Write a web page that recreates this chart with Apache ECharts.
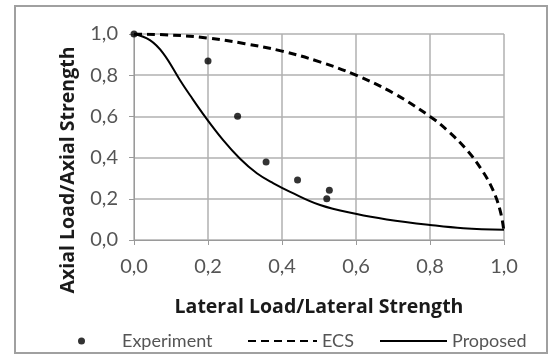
<!DOCTYPE html>
<html>
<head>
<meta charset="utf-8">
<script src="https://cdn.jsdelivr.net/npm/echarts@6/dist/echarts.min.js"></script>
<style>
  html, body { margin: 0; padding: 0; background: #fff; }
  #chart { width: 550px; height: 356px; }
</style>
</head>
<body>
<div id="chart"></div>
<script>
// Interaction curve: lateral load ratio (x) vs axial load ratio (y)
const axisTicks = [0, 0.2, 0.4, 0.6, 0.8, 1.0];

// Test results
const experimentX = [0.0, 0.20, 0.28, 0.357, 0.442, 0.528, 0.521];
const experimentY = [1.0, 0.869, 0.601, 0.379, 0.291, 0.241, 0.200];

// EC5 design interaction curve
const ecsX = [0.0, 0.1, 0.2, 0.3, 0.4, 0.5, 0.6, 0.7, 0.8, 0.85, 0.9, 0.94, 0.97, 0.99, 1.0];
const ecsY = [1.0, 0.995, 0.98, 0.953, 0.917, 0.866, 0.8, 0.714, 0.6, 0.527, 0.436, 0.34, 0.243, 0.14, 0.04];

// Proposed interaction curve
const proposedX = [0.0, 0.043, 0.079, 0.124, 0.151, 0.192, 0.241, 0.286, 0.332, 0.377, 0.422, 0.503, 0.602, 0.683, 0.80, 0.89, 1.0];
const proposedY = [1.0, 0.97, 0.906, 0.777, 0.704, 0.599, 0.485, 0.396, 0.324, 0.275, 0.234, 0.17, 0.126, 0.10, 0.073, 0.057, 0.05];

const zip = (xs, ys) => xs.map((x, i) => [x, ys[i]]);
const fmt = v => v.toFixed(1).replace('.', ',');

const FONT = 'Lato';
const TITLE_FONT = 'Open Sans';
const chart = echarts.init(document.getElementById('chart'), null, { renderer: 'canvas' });

const axisCommon = {
  type: 'value',
  min: axisTicks[0],
  max: axisTicks[axisTicks.length - 1],
  interval: 0.2,
  nameLocation: 'middle',
  axisLine: { show: true, lineStyle: { color: '#9a9a9a', width: 1 } },
  axisTick: { show: true, length: 5, lineStyle: { color: '#9a9a9a' } },
  splitLine: { show: true, lineStyle: { color: '#b0b0b0', width: 1.5 } },
  axisLabel: { color: '#555', fontFamily: FONT, fontSize: 20, formatter: fmt }
};

const legendText = { color: '#555', fontFamily: FONT, fontSize: 18 };

chart.setOption({
  animation: false,
  backgroundColor: '#fff',
  grid: { left: 134, right: 46, top: 34, bottom: 116 },
  graphic: [{
    type: 'rect',
    shape: { x: 15, y: 6, width: 532, height: 347 },
    style: { fill: 'none', stroke: '#a0a0a0', lineWidth: 2 },
    silent: true
  }],
  xAxis: Object.assign({}, axisCommon, {
    name: 'Lateral Load/Lateral Strength',
    nameGap: 57,
    nameTextStyle: { color: '#1a1a1a', fontFamily: TITLE_FONT, fontSize: 19.5, fontWeight: 'bold' },
    axisLabel: Object.assign({}, axisCommon.axisLabel, { margin: 17 })
  }),
  yAxis: Object.assign({}, axisCommon, {
    name: 'Axial Load/Axial Strength',
    nameGap: 56,
    nameTextStyle: { color: '#1a1a1a', fontFamily: TITLE_FONT, fontSize: 19.5, fontWeight: 'bold', padding: [0, 66, 0, 0] },
    axisLabel: Object.assign({}, axisCommon.axisLabel, { margin: 16 })
  }),
  legend: [
    {
      data: ['Experiment'], left: 73, top: 327, icon: 'circle',
      itemWidth: 7, itemHeight: 7,
      textStyle: Object.assign({}, legendText, { padding: [0, 0, 0, 32] })
    },
    {
      data: ['ECS'], left: 242, top: 327, itemWidth: 69, itemHeight: 14,
      itemStyle: { opacity: 0 },
      textStyle: legendText
    },
    {
      data: ['Proposed'], left: 374, top: 327, itemWidth: 67, itemHeight: 14,
      itemStyle: { opacity: 0 },
      textStyle: legendText
    }
  ],
  series: [
    {
      name: 'ECS', type: 'line', smooth: 0.4, symbol: 'none',
      data: zip(ecsX, ecsY),
      lineStyle: { color: '#000', width: 3, type: [8, 5] },
      itemStyle: { color: '#000' }
    },
    {
      name: 'Proposed', type: 'line', smooth: 0.4, symbol: 'none',
      data: zip(proposedX, proposedY),
      lineStyle: { color: '#000', width: 2 },
      itemStyle: { color: '#000' }
    },
    {
      name: 'Experiment', type: 'scatter', symbol: 'circle', symbolSize: 7,
      data: zip(experimentX, experimentY),
      itemStyle: { color: '#000' }
    }
  ]
});
</script>
</body>
</html>
